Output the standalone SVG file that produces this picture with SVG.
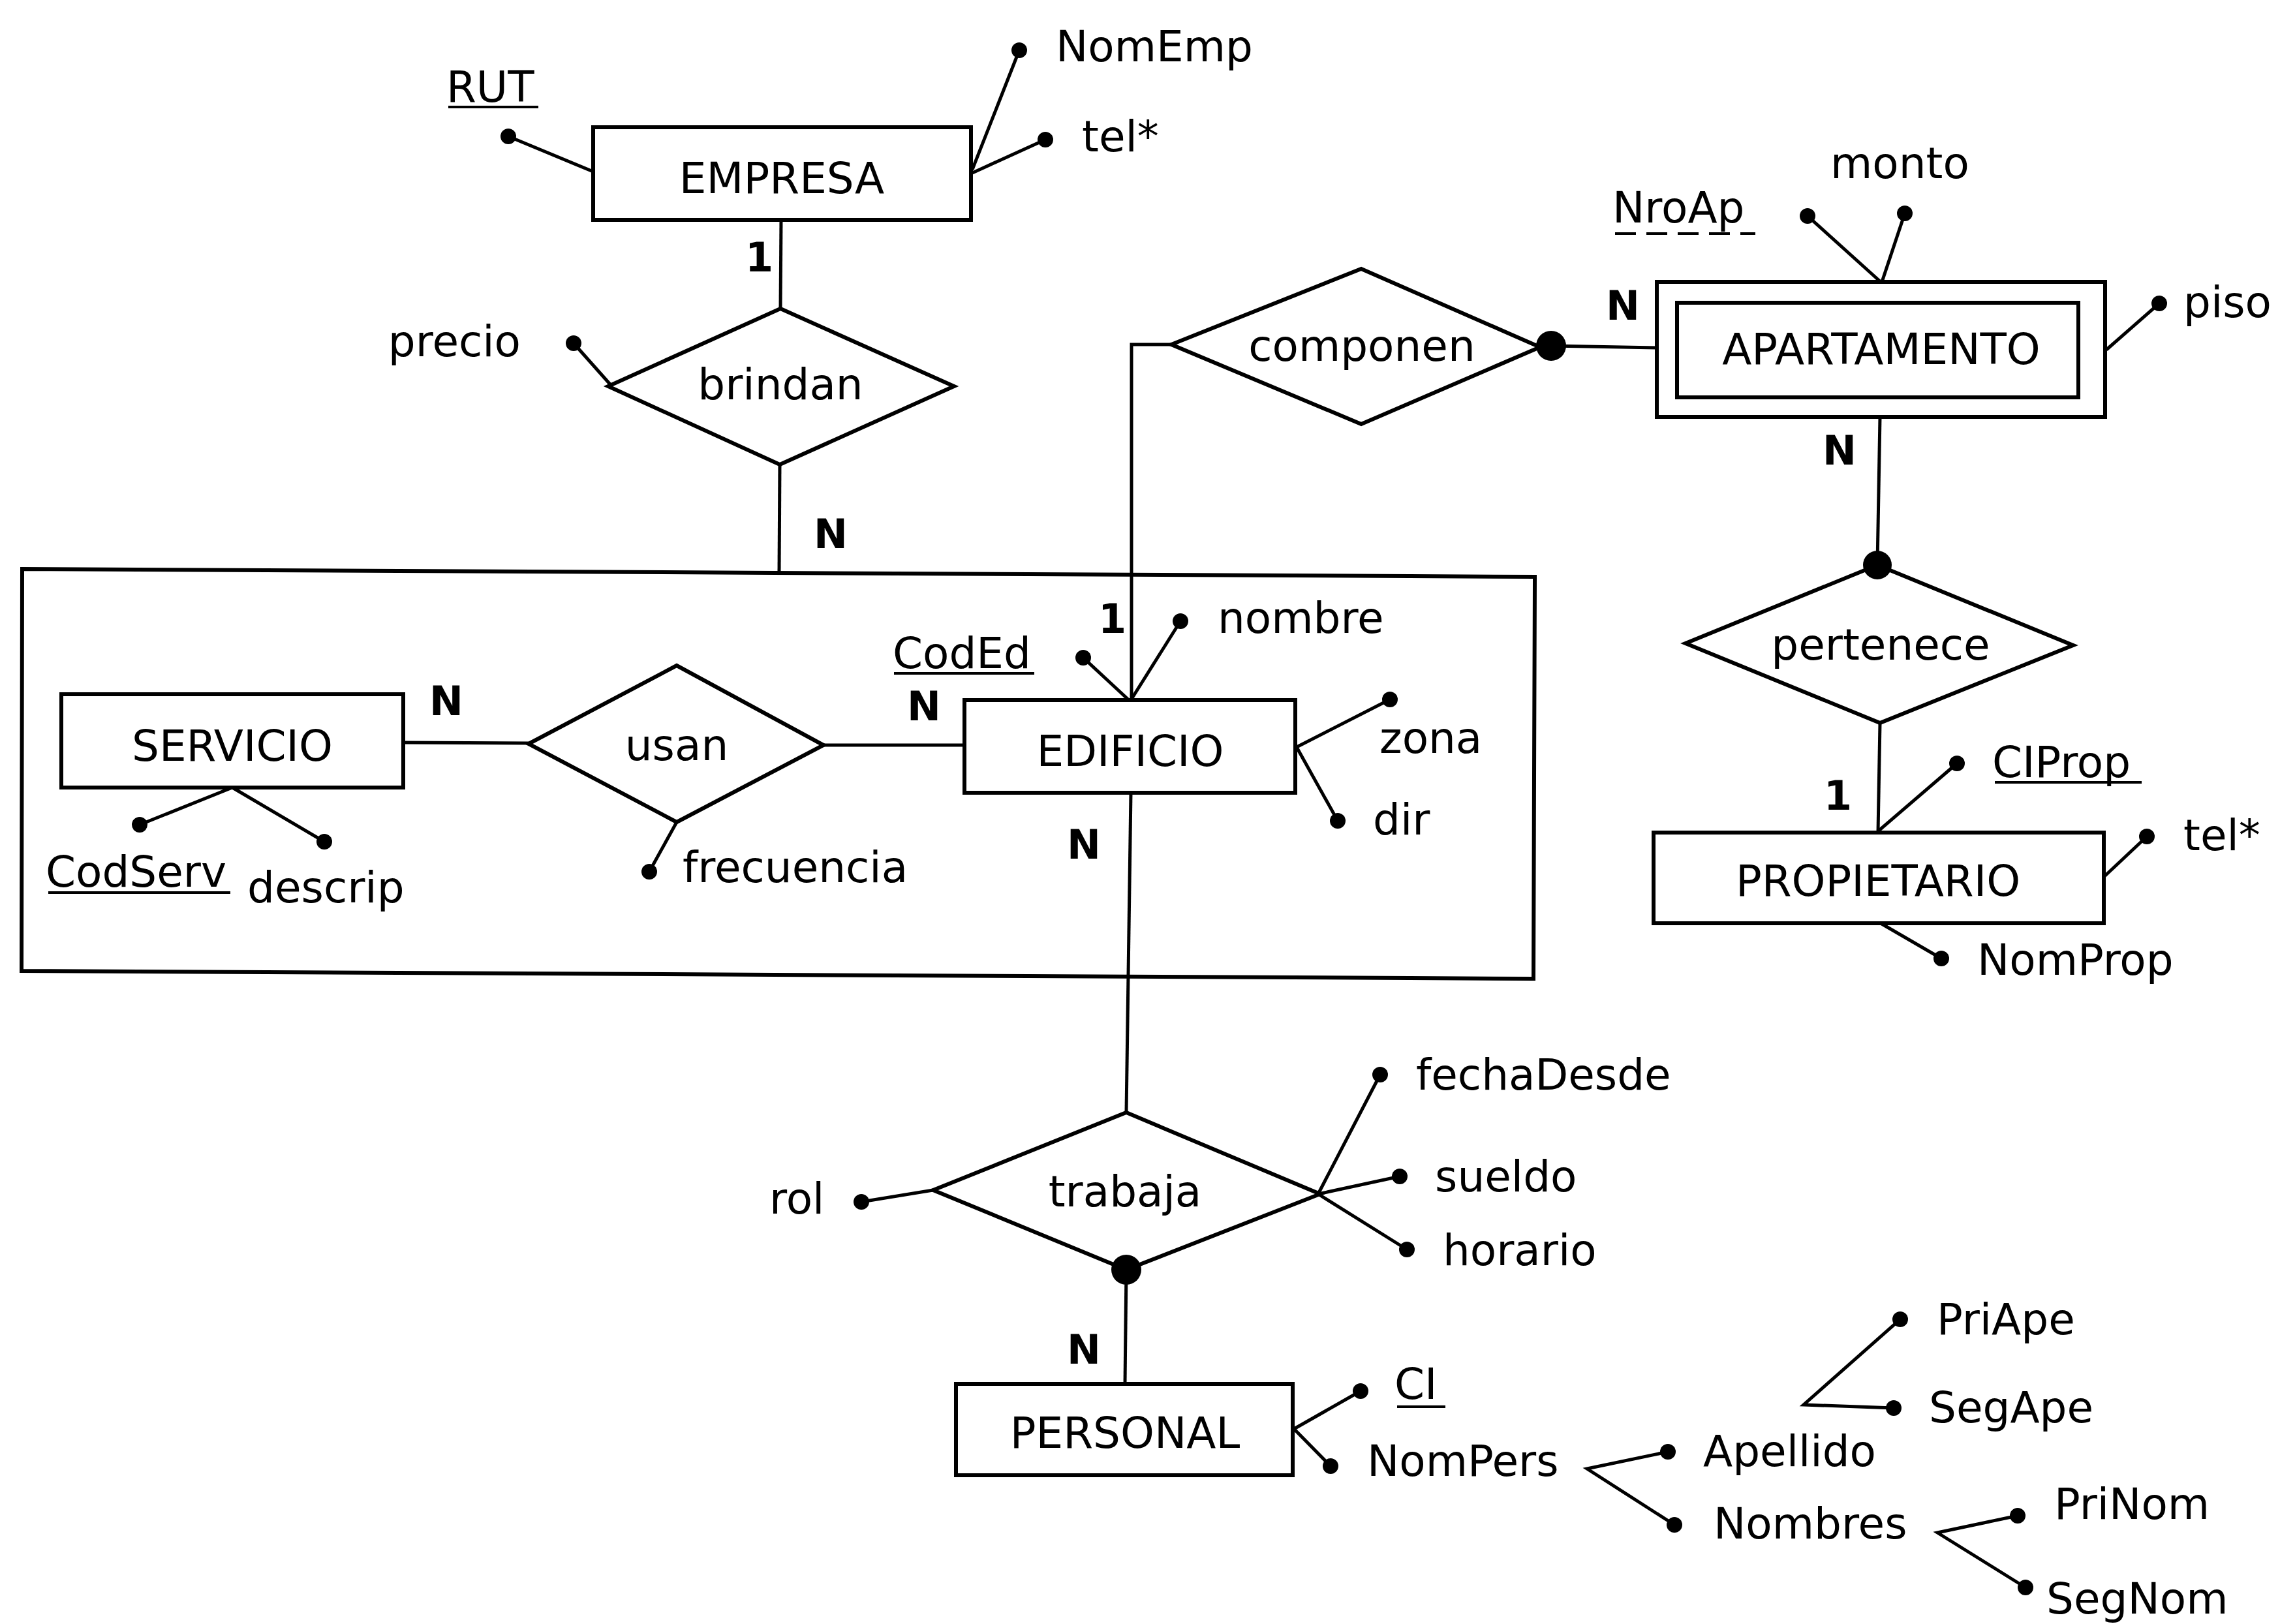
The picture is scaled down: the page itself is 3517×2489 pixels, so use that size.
<svg xmlns="http://www.w3.org/2000/svg" width="3517" height="2489" viewBox="0 0 3517 2489">
<defs>
<style>
.shape{fill:none;stroke:#000;stroke-width:6;stroke-linejoin:miter}
.ln{fill:none;stroke:#000;stroke-width:5}
.ul{stroke:#000;stroke-width:4}
.dot{fill:#000}
text{font-family:"DejaVu Sans",Verdana,sans-serif;font-size:66px;fill:#000}
.nm{text-anchor:middle}
.card{font-weight:bold;font-size:62px}
</style>
</defs>
<rect x="0" y="0" width="3517" height="2489" fill="#fff"/>

<g id="connectors">
<line class="ln" x1="1197" y1="337" x2="1196" y2="473"/>
<line class="ln" x1="1195" y1="712" x2="1194" y2="878"/>
<line class="ln" x1="618" y1="1138" x2="810" y2="1139"/>
<line class="ln" x1="1262" y1="1142" x2="1478" y2="1142"/>
<polyline class="ln" points="1795,528 1734,528 1734,1073"/>
<line class="ln" x1="1733" y1="1215" x2="1726" y2="1705"/>
<line class="ln" x1="1726" y1="1946" x2="1724" y2="2121"/>
<line class="ln" x1="2377" y1="530" x2="2539" y2="533"/>
<line class="ln" x1="2881" y1="639" x2="2877" y2="866"/>
<line class="ln" x1="2881" y1="1108" x2="2878" y2="1276"/>
<circle class="dot" cx="1726" cy="1946" r="23"/>
<circle class="dot" cx="2377" cy="530" r="23"/>
<circle class="dot" cx="2877" cy="866" r="22"/>
<text class="card" x="1142" y="416">1</text>
<text class="card" x="1247" y="840">N</text>
<text class="card" x="658" y="1096">N</text>
<text class="card" x="1390" y="1104">N</text>
<text class="card" x="1683" y="970">1</text>
<text class="card" x="1635" y="1316">N</text>
<text class="card" x="1635" y="2090">N</text>
<text class="card" x="2461" y="490">N</text>
<text class="card" x="2793" y="712">N</text>
<text class="card" x="2795" y="1241">1</text>
</g>

<g id="agregacion">
<polygon class="shape" points="34,872 2352,884 2350,1500 33,1488"/>
</g>

<g id="empresa">
<rect class="shape" x="909" y="195" width="579" height="142"/>
<text class="nm" x="1198" y="296">EMPRESA</text>
<line class="ln" x1="779" y1="209" x2="909" y2="263"/>
<circle class="dot" cx="779" cy="209" r="12"/>
<text x="684" y="156">RUT</text>
<line class="ul" x1="687" y1="164" x2="825" y2="164"/>
<line class="ln" x1="1490" y1="260" x2="1562" y2="77"/>
<circle class="dot" cx="1562" cy="77" r="12"/>
<text x="1618" y="94">NomEmp</text>
<line class="ln" x1="1490" y1="265" x2="1602" y2="214"/>
<circle class="dot" cx="1602" cy="214" r="12"/>
<text x="1658" y="232">tel*</text>
</g>

<g id="brindan">
<polygon class="shape" points="1196,473 1462,592 1195,712 932,592"/>
<text class="nm" x="1196" y="612">brindan</text>
<line class="ln" x1="879" y1="526" x2="935" y2="589"/>
<circle class="dot" cx="879" cy="526" r="12"/>
<text x="798" y="546" text-anchor="end">precio</text>
</g>

<g id="servicio">
<rect class="shape" x="94" y="1064" width="524" height="143"/>
<text class="nm" x="356" y="1166">SERVICIO</text>
<line class="ln" x1="356" y1="1207" x2="214" y2="1264"/>
<circle class="dot" cx="214" cy="1264" r="12"/>
<text x="70" y="1359">CodServ</text>
<line class="ul" x1="74" y1="1368" x2="353" y2="1368"/>
<line class="ln" x1="356" y1="1207" x2="497" y2="1290"/>
<circle class="dot" cx="497" cy="1290" r="12"/>
<text x="379" y="1383">descrip</text>
</g>

<g id="usan">
<polygon class="shape" points="810,1140 1037,1020 1262,1142 1037,1260"/>
<text class="nm" x="1037" y="1165">usan</text>
<line class="ln" x1="1037" y1="1260" x2="995" y2="1336"/>
<circle class="dot" cx="995" cy="1336" r="12"/>
<text x="1046" y="1352">frecuencia</text>
</g>

<g id="edificio">
<rect class="shape" x="1478" y="1073" width="507" height="142"/>
<text class="nm" x="1732" y="1174">EDIFICIO</text>
<line class="ln" x1="1733" y1="1073" x2="1809" y2="952"/>
<circle class="dot" cx="1809" cy="952" r="12"/>
<text x="1866" y="970">nombre</text>
<line class="ln" x1="1730" y1="1073" x2="1660" y2="1008"/>
<circle class="dot" cx="1660" cy="1008" r="12"/>
<text x="1368" y="1024">CodEd</text>
<line class="ul" x1="1370" y1="1032" x2="1585" y2="1032"/>
<line class="ln" x1="1987" y1="1145" x2="2130" y2="1072"/>
<circle class="dot" cx="2130" cy="1072" r="12"/>
<text x="2114" y="1154">zona</text>
<line class="ln" x1="1987" y1="1145" x2="2050" y2="1258"/>
<circle class="dot" cx="2050" cy="1258" r="12"/>
<text x="2104" y="1279">dir</text>
</g>

<g id="componen">
<polygon class="shape" points="2086,412 2360,532 2086,650 1795,528"/>
<text class="nm" x="2087" y="553">componen</text>
</g>

<g id="apartamento">
<rect class="shape" x="2539" y="432" width="687" height="207"/>
<rect class="shape" x="2570" y="464" width="615" height="145"/>
<text class="nm" x="2883" y="558">APARTAMENTO</text>
<line class="ln" x1="2882" y1="432" x2="2770" y2="331"/>
<circle class="dot" cx="2770" cy="331" r="12"/>
<text x="2471" y="341">NroAp</text>
<line class="ul" x1="2475" y1="358" x2="2690" y2="358" stroke-dasharray="32 16"/>
<line class="ln" x1="2884" y1="432" x2="2919" y2="327"/>
<circle class="dot" cx="2919" cy="327" r="12"/>
<text x="2805" y="273">monto</text>
<line class="ln" x1="3228" y1="536" x2="3309" y2="465"/>
<circle class="dot" cx="3309" cy="465" r="12"/>
<text x="3346" y="486">piso</text>
</g>

<g id="pertenece">
<polygon class="shape" points="2877,866 3177,989 2881,1108 2583,986"/>
<text class="nm" x="2882" y="1011">pertenece</text>
</g>

<g id="propietario">
<rect class="shape" x="2534" y="1276" width="690" height="139"/>
<text class="nm" x="2878" y="1373">PROPIETARIO</text>
<line class="ln" x1="2878" y1="1274" x2="2999" y2="1170"/>
<circle class="dot" cx="2999" cy="1170" r="12"/>
<text x="3053" y="1191">CIProp</text>
<line class="ul" x1="3057" y1="1199" x2="3282" y2="1199"/>
<line class="ln" x1="3224" y1="1344" x2="3290" y2="1282"/>
<circle class="dot" cx="3290" cy="1282" r="12"/>
<text x="3346" y="1303">tel*</text>
<line class="ln" x1="2882" y1="1415" x2="2975" y2="1469"/>
<circle class="dot" cx="2975" cy="1469" r="12"/>
<text x="3030" y="1494">NomProp</text>
</g>

<g id="trabaja">
<polygon class="shape" points="1726,1705 2023,1830 1726,1946 1430,1824"/>
<text class="nm" x="1724" y="1849">trabaja</text>
<line class="ln" x1="1430" y1="1824" x2="1320" y2="1842"/>
<circle class="dot" cx="1320" cy="1842" r="12"/>
<text x="1179" y="1860">rol</text>
<line class="ln" x1="2020" y1="1830" x2="2115" y2="1647"/>
<circle class="dot" cx="2115" cy="1647" r="12"/>
<text x="2170" y="1670">fechaDesde</text>
<line class="ln" x1="2020" y1="1830" x2="2145" y2="1803"/>
<circle class="dot" cx="2145" cy="1803" r="12"/>
<text x="2199" y="1826">sueldo</text>
<line class="ln" x1="2020" y1="1830" x2="2156" y2="1915"/>
<circle class="dot" cx="2156" cy="1915" r="12"/>
<text x="2211" y="1939">horario</text>
</g>

<g id="personal">
<rect class="shape" x="1465" y="2121" width="516" height="140"/>
<text class="nm" x="1724" y="2219">PERSONAL</text>
<line class="ln" x1="1983" y1="2190" x2="2085" y2="2132"/>
<circle class="dot" cx="2085" cy="2132" r="12"/>
<text x="2137" y="2144">CI</text>
<line class="ul" x1="2141" y1="2156" x2="2215" y2="2156"/>
<line class="ln" x1="1983" y1="2190" x2="2039" y2="2247"/>
<circle class="dot" cx="2039" cy="2247" r="12"/>
<text x="2095" y="2262">NomPers</text>
<polyline class="ln" points="2556,2225 2432,2251 2566,2337"/>
<circle class="dot" cx="2556" cy="2225" r="12"/>
<text x="2610" y="2247">Apellido</text>
<circle class="dot" cx="2566" cy="2337" r="12"/>
<text x="2626" y="2358">Nombres</text>
<polyline class="ln" points="2912,2022 2764,2153 2902,2158"/>
<circle class="dot" cx="2912" cy="2022" r="12"/>
<text x="2968" y="2045">PriApe</text>
<circle class="dot" cx="2902" cy="2158" r="12"/>
<text x="2956" y="2180">SegApe</text>
<polyline class="ln" points="3092,2323 2969,2349 3104,2433"/>
<circle class="dot" cx="3092" cy="2323" r="12"/>
<text x="3148" y="2328">PriNom</text>
<circle class="dot" cx="3104" cy="2433" r="12"/>
<text x="3136" y="2473">SegNom</text>
</g>
</svg>
